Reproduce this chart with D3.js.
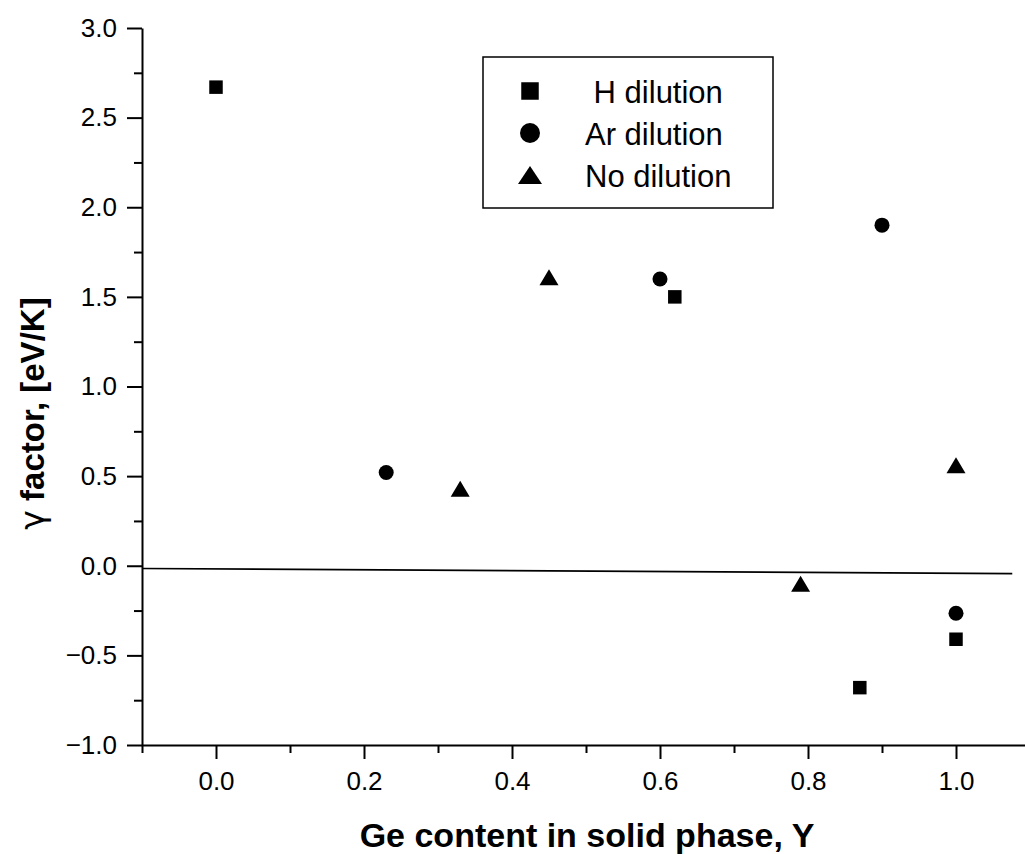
<!DOCTYPE html>
<html>
<head>
<meta charset="utf-8">
<script src="https://cdn.jsdelivr.net/npm/d3@7"></script>
<style>
    body { margin: 0; background: #fff; }
    text { font-family: Arial, "Liberation Sans", sans-serif; fill: #000; }
    .tick text { font-size: 26px; }
    .title { font-size: 34px; font-weight: bold; }
    .ytitle { font-size: 33px; font-weight: bold; }
    .gamma { font-family: "DejaVu Sans", sans-serif; font-weight: normal; }
    .legend text { font-size: 31px; white-space: pre; }
</style>
</head>
<body>
<div id="chart"></div>
<script>
// data
var hDilutionX = [0.0, 0.62, 0.87, 1.0];
var hDilutionY = [2.67, 1.50, -0.68, -0.41];

var arDilutionX = [0.23, 0.60, 0.90, 1.0];
var arDilutionY = [0.52, 1.60, 1.90, -0.265];

var noDilutionX = [0.33, 0.45, 0.79, 1.0];
var noDilutionY = [0.43, 1.61, -0.10, 0.56];

var fitX = [-0.1, 1.076];
var fitY = [-0.015, -0.044];

var legendLabels = [" H dilution", "Ar dilution", "No dilution"];
var xMajorTicks = [0.0, 0.2, 0.4, 0.6, 0.8, 1.0];
var xMinorTicks = [-0.1, 0.1, 0.3, 0.5, 0.7, 0.9];
var yMajorTicks = [-1.0, -0.5, 0.0, 0.5, 1.0, 1.5, 2.0, 2.5, 3.0];
var yMinorTicks = [-0.75, -0.25, 0.25, 0.75, 1.25, 1.75, 2.25, 2.75];

var width = 1025,
    height = 854;

var svg = d3.select("#chart")
    .append("svg")
    .attr("width", width)
    .attr("height", height);

var x = d3.scaleLinear()
    .domain([-0.1, 1.1])
    .range([142, 142 + 1.2 * 740]);

var y = d3.scaleLinear()
    .domain([-1, 3])
    .range([745, 28]);

function zipped(xs, ys) {
    return xs.map(function(v, i) { return {x: v, y: ys[i]}; });
}

// marker shapes, centred on their box
function square(s) {
    return "M" + (-s / 2) + "," + (-s / 2) + "h" + s + "v" + s + "h" + (-s) + "Z";
}
function triangle(w, h) {
    return "M0," + (-h / 2) + "L" + (w / 2) + "," + (h / 2) + "L" + (-w / 2) + "," + (h / 2) + "Z";
}

var series = [
    {data: zipped(hDilutionX, hDilutionY), kind: "square"},
    {data: zipped(arDilutionX, arDilutionY), kind: "circle"},
    {data: zipped(noDilutionX, noDilutionY), kind: "triangle"}
];

function drawMarker(g, kind, big) {
    if (kind == "circle") {
        g.append("circle").attr("r", big ? 10 : 7.5).attr("fill", "#000");
    } else if (kind == "square") {
        g.append("path").attr("d", big ? square(17.5) : square(13.5)).attr("fill", "#000");
    } else {
        g.append("path").attr("d", big ? triangle(24, 18) : triangle(19, 16)).attr("fill", "#000");
    }
}

// fit line
svg.append("line")
    .attr("x1", x(fitX[0]))
    .attr("y1", y(fitY[0]))
    .attr("x2", x(fitX[1]))
    .attr("y2", y(fitY[1]))
    .attr("stroke", "#000")
    .attr("stroke-width", 1.6);

// minor ticks
svg.append("g")
    .attr("transform", "translate(0,745)")
    .call(d3.axisBottom(x).tickValues(xMinorTicks).tickSize(8).tickSizeOuter(0).tickFormat(""))
    .call(function(g) { g.select(".domain").remove(); })
    .selectAll("line").attr("stroke-width", 2);

svg.append("g")
    .attr("transform", "translate(142,0)")
    .call(d3.axisLeft(y).tickValues(yMinorTicks).tickSize(8).tickSizeOuter(0).tickFormat(""))
    .call(function(g) { g.select(".domain").remove(); })
    .selectAll("line").attr("stroke-width", 2);

// major axes
var xAxis = svg.append("g")
    .attr("transform", "translate(0,745)")
    .call(d3.axisBottom(x).tickValues(xMajorTicks).tickSize(14).tickSizeOuter(0).tickPadding(13).tickFormat(d3.format(".1f")));

var yAxis = svg.append("g")
    .attr("transform", "translate(142,0)")
    .call(d3.axisLeft(y).tickValues(yMajorTicks).tickSize(15).tickSizeOuter(0).tickPadding(10).tickFormat(d3.format(".1f")));

[xAxis, yAxis].forEach(function(a) {
    a.selectAll("line").attr("stroke-width", 2);
    a.select(".domain").attr("stroke-width", 2);
    a.selectAll("text").attr("font-family", null).attr("font-size", null);
});

// points
series.forEach(function(s) {
    svg.append("g")
        .selectAll("g")
        .data(s.data)
        .enter()
        .append("g")
        .attr("transform", function(d) {
            return "translate(" + x(d.x) + "," + y(d.y) + ")";
        })
        .each(function() {
            drawMarker(d3.select(this), s.kind, false);
        });
});

// legend
var legend = svg.append("g").attr("class", "legend");

legend.append("rect")
    .attr("x", 483)
    .attr("y", 57)
    .attr("width", 290)
    .attr("height", 151)
    .attr("fill", "#fff")
    .attr("stroke", "#000")
    .attr("stroke-width", 1.5);

var rows = legend.selectAll("g.row")
    .data(legendLabels)
    .enter()
    .append("g")
    .attr("class", "row")
    .attr("transform", function(d, i) {
        return "translate(530," + (91 + i * 42) + ")";
    });

rows.each(function(d, i) {
    drawMarker(d3.select(this), series[i].kind, true);
});

rows.append("text")
    .attr("x", 55)
    .attr("y", 12)
    .text(function(d) { return d; });

// axis titles
svg.append("text")
    .attr("class", "title")
    .attr("x", 587)
    .attr("y", 847)
    .attr("text-anchor", "middle")
    .text("Ge content in solid phase, Y");

var yTitle = svg.append("text")
    .attr("class", "ytitle")
    .attr("transform", "translate(43.5,413.5) rotate(-90)")
    .attr("text-anchor", "middle");
yTitle.append("tspan").attr("class", "gamma").text("γ");
yTitle.append("tspan").text(" factor, [eV/K]");
</script>
</body>
</html>
